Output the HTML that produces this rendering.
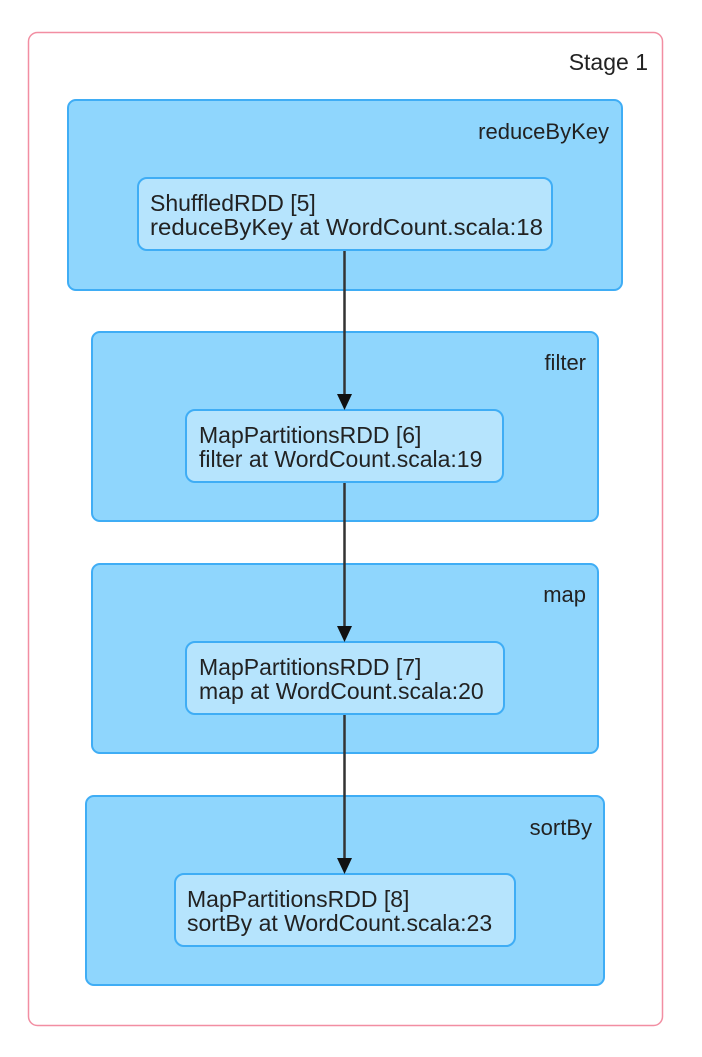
<!DOCTYPE html>
<html><head><meta charset="utf-8"><style>
html,body{margin:0;padding:0;background:#fff;}
svg text{font-family:"Liberation Sans",Arial,sans-serif;font-size:23px;fill:#222;}
</style></head><body>
<svg width="702" height="1052" viewBox="0 0 702 1052" xmlns="http://www.w3.org/2000/svg">
<rect x="28.5" y="32.5" width="634" height="993" rx="9" fill="#fff" stroke="#f28ea2" stroke-width="1.5"/>
<text x="648" y="70" text-anchor="end">Stage 1</text>

<g stroke="#3fadf5" stroke-width="2">
<rect x="68" y="100" width="554" height="190" rx="8" fill="#8fd6fd"/>
<rect x="92" y="332" width="506" height="189" rx="8" fill="#8fd6fd"/>
<rect x="92" y="564" width="506" height="189" rx="8" fill="#8fd6fd"/>
<rect x="86" y="796" width="518" height="189" rx="8" fill="#8fd6fd"/>
<rect x="138" y="178" width="414" height="72" rx="9" fill="#b6e4fd"/>
<rect x="186" y="410" width="317" height="72" rx="9" fill="#b6e4fd"/>
<rect x="186" y="642" width="318" height="72" rx="9" fill="#b6e4fd"/>
<rect x="175" y="874" width="340" height="72" rx="9" fill="#b6e4fd"/>
</g>
<g font-size="21">
<text x="609" y="139" text-anchor="end" style="font-size:22px">reduceByKey</text>
<text x="586" y="370" text-anchor="end" style="font-size:22px">filter</text>
<text x="586" y="602" text-anchor="end" style="font-size:22px">map</text>
<text x="592" y="835" text-anchor="end" style="font-size:22px">sortBy</text>
</g>

<text x="150" y="211">ShuffledRDD [5]</text>
<text x="150" y="235" textLength="393" lengthAdjust="spacingAndGlyphs">reduceByKey at WordCount.scala:18</text>
<text x="199" y="443">MapPartitionsRDD [6]</text>
<text x="199" y="467">filter at WordCount.scala:19</text>
<text x="199" y="675">MapPartitionsRDD [7]</text>
<text x="199" y="699">map at WordCount.scala:20</text>
<text x="187" y="907">MapPartitionsRDD [8]</text>
<text x="187" y="931">sortBy at WordCount.scala:23</text>

<g stroke="#333" stroke-width="2.5" fill="none">
<line x1="344.5" y1="251" x2="344.5" y2="396"/>
<line x1="344.5" y1="483" x2="344.5" y2="628"/>
<line x1="344.5" y1="715" x2="344.5" y2="860"/>
</g>
<g fill="#111">
<polygon points="337,394 352,394 344.5,410"/>
<polygon points="337,626 352,626 344.5,642"/>
<polygon points="337,858 352,858 344.5,874"/>
</g>
</svg>
</body></html>
